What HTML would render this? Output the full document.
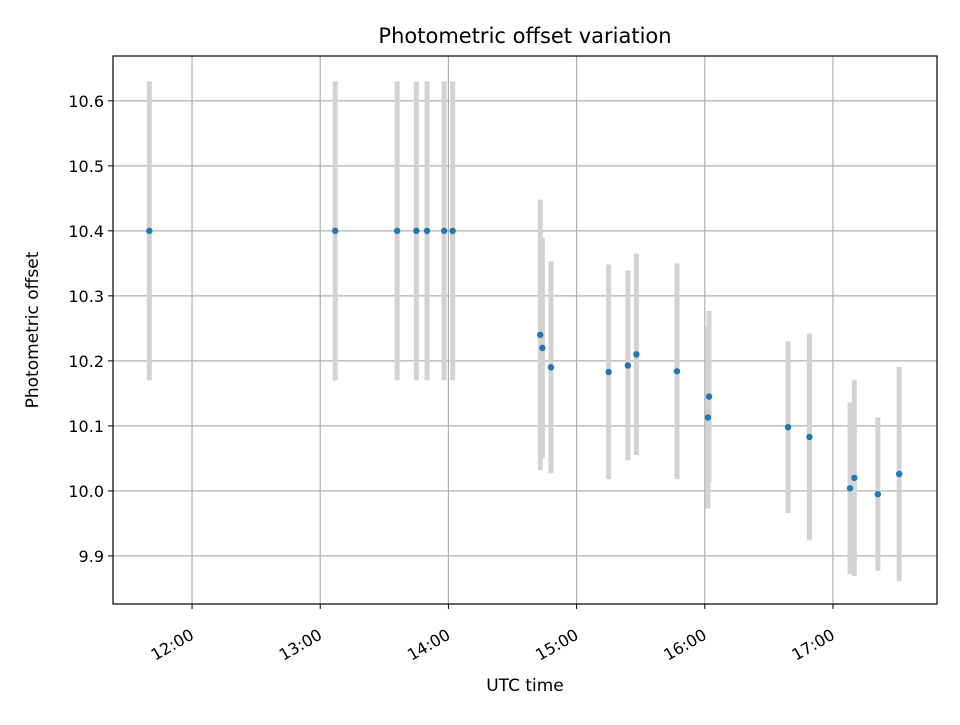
<!DOCTYPE html>
<html><head><meta charset="utf-8"><style>
body{margin:0;background:#fff;}
svg text{font-family:"DejaVu Sans","Liberation Sans",sans-serif;fill:#000;}
</style></head><body>
<svg id="chart" width="960" height="720" viewBox="0 0 960 720" xmlns="http://www.w3.org/2000/svg">
<rect width="960" height="720" fill="#fff"/>
<g id="grid"></g>
<g id="bars"></g>
<g id="pts"></g>
<rect x="113" y="56" width="824" height="548" fill="none" stroke="#000" stroke-width="1.2"/>
<g id="axes"></g>
<text x="525" y="43" font-size="21" text-anchor="middle">Photometric offset variation</text>
<text x="525" y="691" font-size="17" text-anchor="middle">UTC time</text>
<text transform="translate(38,330) rotate(-90)" font-size="17" text-anchor="middle">Photometric offset</text>
</svg>
<script>
const times = ["11:40","13:07","13:36","13:45","13:50","13:58","14:02","14:43","14:44","14:48","15:15","15:24","15:28","15:47","16:02","16:01.5","16:39","16:49","17:08","17:10","17:21","17:31"];
const offsets = [10.40,10.40,10.40,10.40,10.40,10.40,10.40,10.240,10.220,10.190,10.183,10.193,10.210,10.184,10.145,10.113,10.098,10.083,10.004,10.020,9.995,10.026];
const errors = [0.23,0.23,0.23,0.23,0.23,0.23,0.23,0.208,0.17,0.163,0.165,0.146,0.155,0.166,0.132,0.14,0.132,0.159,0.132,0.151,0.118,0.165];
const xTickLabels = ["12:00","13:00","14:00","15:00","16:00","17:00"];
const yTickLabels = ["9.9","10.0","10.1","10.2","10.3","10.4","10.5","10.6"];

const NS="http://www.w3.org/2000/svg";
const X0=113,X1=937,Y0=56,Y1=604;
const xMin=11*60+23, xMax=17*60+48.7, yMin=9.826, yMax=10.669;
function toMin(s){const p=s.split(":");return +p[0]*60+parseFloat(p[1]);}
function xs(m){return X0+(m-xMin)/(xMax-xMin)*(X1-X0);}
function ys(v){return Y1-(v-yMin)/(yMax-yMin)*(Y1-Y0);}
function mk(tag,attrs,parent){const e=document.createElementNS(NS,tag);for(const k in attrs)e.setAttribute(k,attrs[k]);document.getElementById(parent).appendChild(e);return e;}

xTickLabels.forEach(l=>{
  const x=xs(toMin(l));
  const g=mk("line",{x1:x,x2:x,y1:Y0,y2:Y1,stroke:"#b0b0b0","stroke-width":1.2},"grid");
  
  
  const t=mk("line",{x1:x,x2:x,y1:Y1,y2:Y1+5,stroke:"#000","stroke-width":1},"axes");
  
  
  const tx=mk("text",{"font-size":16,"text-anchor":"end",transform:`translate(${x+3},${Y1+34}) rotate(-30)`},"axes");
  tx.textContent=l;
  
  
});
yTickLabels.forEach(l=>{
  const y=ys(parseFloat(l));
  const g=mk("line",{x1:X0,x2:X1,y1:y,y2:y,stroke:"#b0b0b0","stroke-width":1.2},"grid");
  
  
  const t=mk("line",{x1:X0-5,x2:X0,y1:y,y2:y,stroke:"#000","stroke-width":1},"axes");
  
  
  const tx=mk("text",{x:X0-9,y:y+6,"font-size":16,"text-anchor":"end"},"axes");
  tx.textContent=l;
  
  
});
times.forEach((tm,i)=>{
  const x=xs(toMin(tm));
  const b=mk("line",{x1:x,x2:x,y1:ys(offsets[i]+errors[i]),y2:ys(offsets[i]-errors[i]),stroke:"#d3d3d3","stroke-width":5},"bars");
  
  
  const c=mk("circle",{cx:x,cy:ys(offsets[i]),r:3.2,fill:"#1f77b4"},"pts");
  
  
});
</script>
</body></html>
